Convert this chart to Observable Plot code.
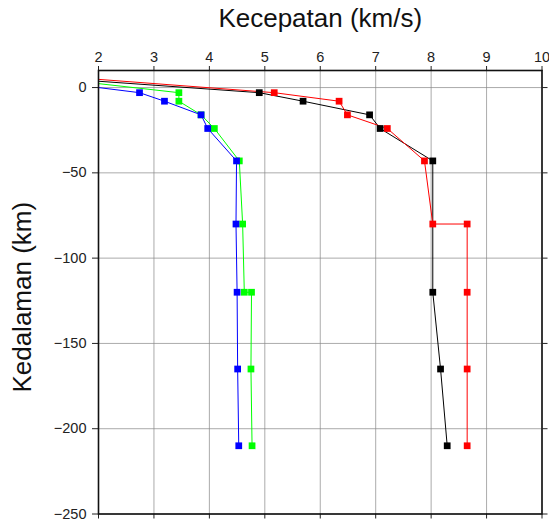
<!DOCTYPE html>
<html>
<head>
<meta charset="utf-8">
<script src="https://cdn.jsdelivr.net/npm/d3@7"></script>
<script src="https://cdn.jsdelivr.net/npm/@observablehq/plot@0.6"></script>
<style>
  html, body { margin: 0; padding: 0; background: white; }
</style>
</head>
<body>
<div id="chart"></div>
<script>
// Tick values
const xTicks = [2, 3, 4, 5, 6, 7, 8, 9, 10];
const yTicks = [0, -50, -100, -150, -200, -250];

// Series: velocity (km/s) and depth (km); first entry is the surface start of each line (no marker)
const blueVel   = [2.00, 2.74, 3.19, 3.85, 3.97, 4.49, 4.48, 4.50, 4.51, 4.53];
const blueDepth = [0.0, -3, -8, -16, -24, -43, -80, -120, -165, -210];

const greenVel   = [2.00, 3.45, 3.45, 3.85, 4.09, 4.54, 4.60, 4.63, 4.76, 4.75, 4.77];
const greenDepth = [2.3, -3, -8, -16, -24, -43, -80, -120, -120, -165, -210];

const blackVel   = [2.00, 4.90, 5.69, 6.89, 7.08, 8.03, 8.03, 8.17, 8.29];
const blackDepth = [3.7, -3, -8, -16, -24, -43, -120, -165, -210];

const redVel   = [2.00, 5.17, 6.34, 6.49, 7.21, 7.88, 8.03, 8.65, 8.65, 8.65, 8.65];
const redDepth = [4.8, -3, -8, -16, -24, -43, -80, -80, -120, -165, -210];

function rows(vel, depth) {
  return vel.map((v, i) => ({v, d: depth[i], i}));
}
const blue = rows(blueVel, blueDepth);
const green = rows(greenVel, greenDepth);
const black = rows(blackVel, blackDepth);
const red = rows(redVel, redDepth);

const lineOpts = (color) => ({x: "v", y: "d", stroke: color, strokeWidth: 1, curve: "linear"});
const dotOpts = (color) => ({x: "v", y: "d", symbol: "square", r: 3.8, fill: color, stroke: "none", filter: (p) => p.i > 0});

const chart = Plot.plot({
  width: 549,
  height: 522,
  marginLeft: 98,
  marginRight: 7.5,
  marginTop: 70,
  marginBottom: 8.5,
  x: {domain: [2, 10]},
  y: {domain: [-250, 10]},
  style: {fontFamily: "'Liberation Sans', Arial, Helvetica, sans-serif", fontSize: "14px", color: "#222", background: "white"},
  marks: [
    Plot.gridX(xTicks, {stroke: "#888", strokeOpacity: 0.7, strokeWidth: 1}),
    Plot.gridY(yTicks, {stroke: "#888", strokeOpacity: 0.7, strokeWidth: 1}),
    Plot.axisX(xTicks, {anchor: "top", tickSize: 5, tickPadding: 4, label: null, fontSize: 14.5}),
    Plot.axisX(xTicks, {anchor: "bottom", tickSize: 5, tickFormat: () => "", label: null}),
    Plot.axisY(yTicks, {anchor: "left", tickSize: 6, tickPadding: 6, label: null, fontSize: 14.5}),
    Plot.axisY(yTicks, {anchor: "right", tickSize: 5, tickFormat: () => "", label: null}),
    Plot.line(black, lineOpts("#000000")),
    Plot.line(red, lineOpts("#ff0000")),
    Plot.line(green, lineOpts("#00ff00")),
    Plot.line(blue, lineOpts("#0000ff")),
    Plot.dot(green, dotOpts("#00ff00")),
    Plot.dot(blue, dotOpts("#0000ff")),
    Plot.dot(red, dotOpts("#ff0000")),
    Plot.dot(black, dotOpts("#000000")),
    Plot.frame({stroke: "#111", strokeWidth: 1.6}),
    Plot.text(["Kecepatan (km/s)"], {text: (d) => d, frameAnchor: "top", lineAnchor: "middle", textAnchor: "middle", dy: -52, fontSize: 26, fill: "#111"}),
    Plot.text(["Kedalaman (km)"], {text: (d) => d, frameAnchor: "left", lineAnchor: "middle", textAnchor: "middle", dx: -76, dy: 5, rotate: -90, fontSize: 26, fill: "#111"})
  ]
});
document.getElementById("chart").appendChild(chart);
</script>
</body>
</html>
